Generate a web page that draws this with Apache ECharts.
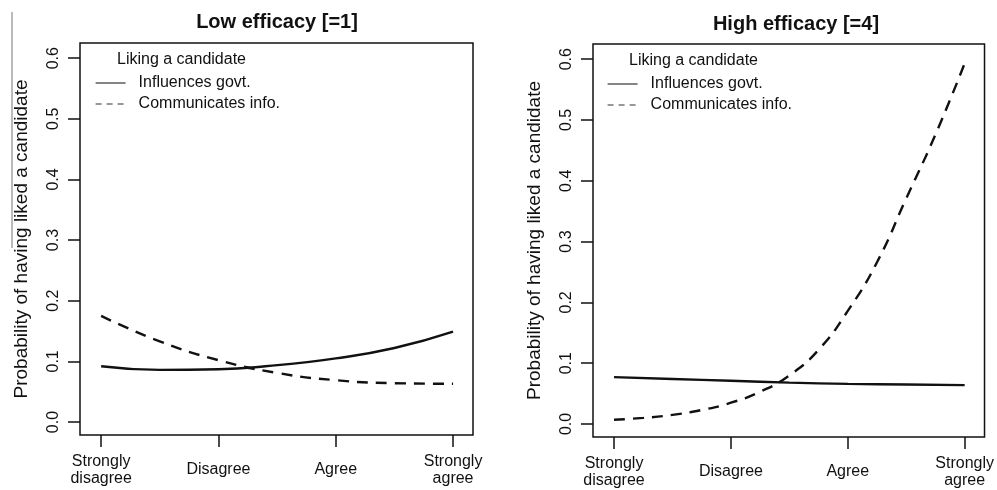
<!DOCTYPE html>
<html>
<head>
<meta charset="utf-8">
<script src="https://cdn.jsdelivr.net/npm/echarts@6.0.0/dist/echarts.min.js"></script>
<style>
html,body{margin:0;padding:0;background:#fff;}
#chart{width:997px;height:490px;}
</style>
</head>
<body>
<div id="chart"></div>
<script>
// ---- data ----
var categories = ['Strongly\ndisagree', 'Disagree', 'Agree', 'Strongly\nagree'];
var categoryPositions = [1, 2, 3, 4];
var yTicks = [0, 0.1, 0.2, 0.3, 0.4, 0.5, 0.6];
var panelTitles = ['Low efficacy [=1]', 'High efficacy [=4]'];
var seriesNames = ['Influences govt.', 'Communicates info.'];
var legendTitle = 'Liking a candidate';
var yAxisName = 'Probability of having liked a candidate';

var lowGovX  = [1, 1.5, 2, 2.4, 3, 3.5, 4];
var lowGovY  = [0.092, 0.086, 0.087, 0.092, 0.105, 0.122, 0.149];
var lowInfoX = [1, 1.5, 2, 2.5, 3, 3.5, 4];
var lowInfoY = [0.175, 0.133, 0.102, 0.081, 0.069, 0.064, 0.063];

var highGovX  = [1, 1.5, 2, 2.5, 3, 3.5, 4];
var highGovY  = [0.077, 0.074, 0.071, 0.068, 0.066, 0.065, 0.064];
var highInfoX = [1, 1.25, 1.5, 1.75, 2, 2.25, 2.5, 2.75, 3, 3.25, 3.5, 3.75, 4];
var highInfoY = [0.007, 0.010, 0.015, 0.023, 0.035, 0.053, 0.080, 0.122, 0.186, 0.266, 0.371, 0.476, 0.593];

function pairs(xs, ys) { return xs.map(function (x, i) { return [x, ys[i]]; }); }

var FONT = "'Liberation Sans', Arial, sans-serif";
var INK = '#111';

var grids = [
  { left: 80, top: 43, width: 393, height: 392 },
  { left: 593, top: 44, width: 393, height: 393 }
];

function xAxisFor(i) {
  return {
    type: 'value', gridIndex: i, min: 0.82, max: 4.17,
    axisLine: { show: false, onZero: false },
    splitLine: { show: false },
    axisTick: { show: true, customValues: categoryPositions, length: 12, lineStyle: { color: INK, width: 1.5 } },
    axisLabel: {
      customValues: categoryPositions, margin: 35, verticalAlign: 'middle',
      fontFamily: FONT, fontSize: 16, color: INK, lineHeight: 17,
      formatter: function (v) { var k = categoryPositions.indexOf(Math.round(v)); return k >= 0 ? categories[k] : ''; }
    }
  };
}
function yAxisFor(i) {
  return {
    type: 'value', gridIndex: i, min: -0.0214, max: 0.625,
    axisLine: { show: false, onZero: false },
    splitLine: { show: false },
    name: yAxisName, nameLocation: 'middle', nameGap: 49,
    nameTextStyle: { fontFamily: FONT, fontSize: 19, color: INK },
    axisTick: { show: true, customValues: yTicks, length: 12, lineStyle: { color: INK, width: 1.5 } },
    axisLabel: {
      customValues: yTicks, rotate: 90, margin: 18, fontFamily: FONT, fontSize: 16, color: INK,
      formatter: function (v) { return v.toFixed(1); }
    }
  };
}

function lineSeries(name, idx, xs, ys, dashed) {
  return {
    name: name, type: 'line', xAxisIndex: idx, yAxisIndex: idx,
    data: pairs(xs, ys), smooth: 0.5, symbol: 'none',
    lineStyle: { color: INK, width: 2.4, type: dashed ? [11, 8] : 'solid' },
    itemStyle: { color: INK }
  };
}

function legendFor(left, top) {
  return {
    left: left, top: top, orient: 'vertical', itemWidth: 30, itemHeight: 14, itemGap: 5,
    padding: 0, selectedMode: false,
    textStyle: { fontFamily: FONT, fontSize: 16, color: INK, padding: [0, 0, 0, 8] },
    data: [
      { name: seriesNames[0], itemStyle: { opacity: 0 }, lineStyle: { width: 1.2, color: '#333', type: 'solid', opacity: 1 } },
      { name: seriesNames[1], itemStyle: { opacity: 0 }, lineStyle: { width: 1.2, color: '#333', type: [6, 5], opacity: 1 } }
    ]
  };
}

var option = {
  backgroundColor: '#fff',
  animation: false,
  title: [
    { text: panelTitles[0], left: 272, top: 7, textAlign: 'center',
      textStyle: { fontFamily: FONT, fontSize: 20, fontWeight: 'bold', color: INK } },
    { text: panelTitles[1], left: 791, top: 9, textAlign: 'center',
      textStyle: { fontFamily: FONT, fontSize: 20, fontWeight: 'bold', color: INK } },
    { text: legendTitle, left: 112, top: 47, textStyle: { fontFamily: FONT, fontSize: 16, fontWeight: 'normal', color: INK } },
    { text: legendTitle, left: 624, top: 48, textStyle: { fontFamily: FONT, fontSize: 16, fontWeight: 'normal', color: INK } }
  ],
  legend: [legendFor(95, 75), legendFor(607, 76)],
  grid: grids.map(function (g) {
    return { left: g.left, top: g.top, width: g.width, height: g.height, show: true,
      borderColor: INK, borderWidth: 1.5, backgroundColor: 'transparent', containLabel: false };
  }),
  xAxis: [xAxisFor(0), xAxisFor(1)],
  yAxis: [yAxisFor(0), yAxisFor(1)],
  series: [
    lineSeries(seriesNames[0], 0, lowGovX, lowGovY, false),
    lineSeries(seriesNames[1], 0, lowInfoX, lowInfoY, true),
    lineSeries(seriesNames[0], 1, highGovX, highGovY, false),
    lineSeries(seriesNames[1], 1, highInfoX, highInfoY, true)
  ],
  graphic: [
    { type: 'line', shape: { x1: 12, y1: 12, x2: 12, y2: 248 }, style: { stroke: '#777', lineWidth: 1 }, silent: true }
  ]
};

var chart = echarts.init(document.getElementById('chart'), null, { renderer: 'canvas' });
chart.setOption(option);
</script>
</body>
</html>
